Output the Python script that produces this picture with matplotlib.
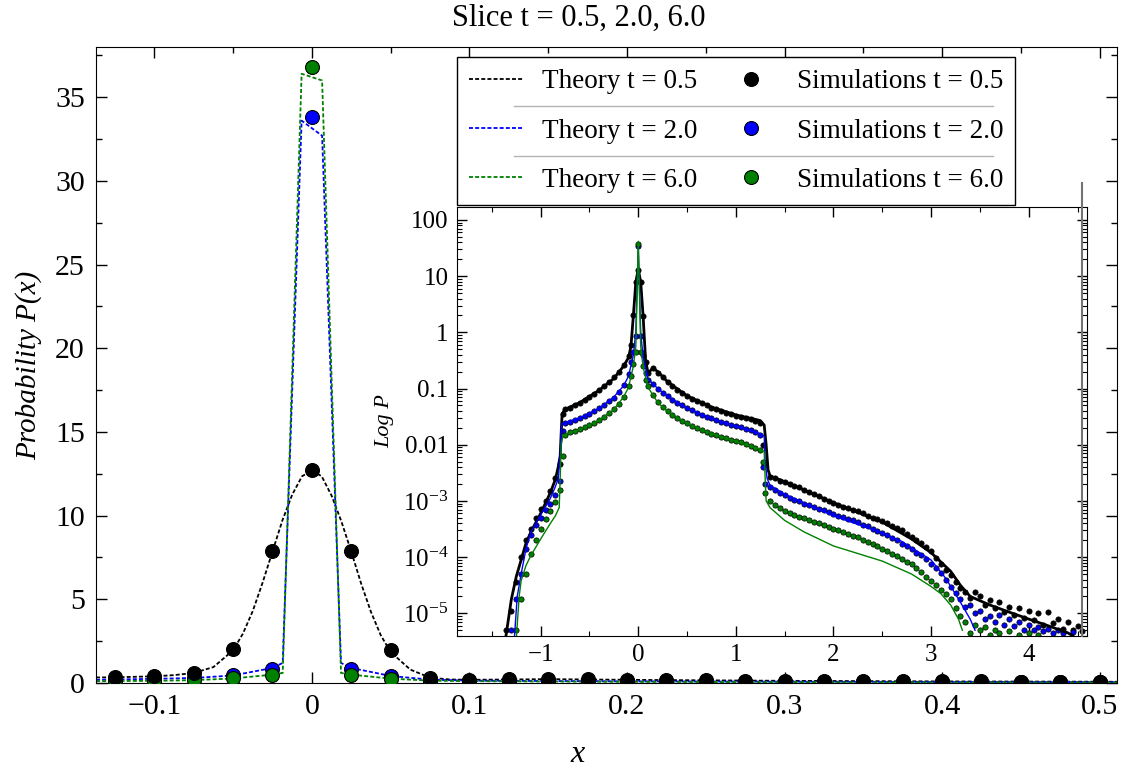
import matplotlib

matplotlib.use("Agg")
import matplotlib.pyplot as plt
import numpy as np
from matplotlib.lines import Line2D
from matplotlib.ticker import FuncFormatter, LogLocator, MultipleLocator

plt.rcParams["font.family"] = ["Liberation Serif", "DejaVu Serif"]
plt.rcParams["mathtext.fontset"] = "custom"
plt.rcParams["mathtext.rm"] = "Liberation Serif"
plt.rcParams["mathtext.it"] = "Liberation Serif:italic"

nan = np.nan

# ---- main panel: slices of P(x) near the origin ----
SIM_X = [-0.125, -0.1, -0.075, -0.05, -0.025, 0.0, 0.025, 0.05, 0.075, 0.1, 0.125, 0.15, 0.175,
         0.2, 0.225, 0.25, 0.275, 0.3, 0.325, 0.35, 0.375, 0.4, 0.425, 0.45, 0.475, 0.5]
SIM_05 = [0.33, 0.40, 0.60, 2.05, 7.9, 12.7, 7.9, 1.95, 0.30, 0.19, 0.22, 0.23, 0.21,
          0.19, 0.17, 0.155, 0.14, 0.13, 0.12, 0.11, 0.10, 0.095, 0.09, 0.085, 0.08, 0.075]
SIM_20 = [0.20, 0.25, 0.30, 0.45, 0.86, 33.8, 0.85, 0.40, 0.19, 0.14, 0.13, 0.12, 0.11,
          0.10, 0.095, 0.09, 0.085, 0.08, 0.075, 0.07, 0.065, 0.06, 0.058, 0.055, 0.052, 0.05]
SIM_60 = [0.11, 0.13, 0.17, 0.27, 0.45, 36.8, 0.45, 0.25, 0.14, 0.11, 0.095, 0.085, 0.075,
          0.068, 0.062, 0.057, 0.052, 0.048, 0.045, 0.042, 0.04, 0.037, 0.035, 0.033, 0.031, 0.03]

TH_X_05 = [-0.137, -0.125, -0.1, -0.0875, -0.075, -0.0625, -0.05, -0.04375, -0.0375, -0.03125,
           -0.025, -0.01875, -0.0125, -0.00625, 0.0, 0.00625, 0.0125, 0.01875, 0.025, 0.03125,
           0.0375, 0.04375, 0.05, 0.0625, 0.075, 0.0875, 0.1, 0.125, 0.15, 0.2, 0.3, 0.4, 0.511]
TH_05 = [0.33, 0.34, 0.40, 0.47, 0.60, 0.95, 1.95, 2.95, 4.3, 6.0,
         7.85, 9.7, 11.25, 12.35, 12.7, 12.35, 11.2, 9.65, 7.85, 5.95,
         4.25, 2.85, 1.85, 0.8, 0.32, 0.21, 0.19, 0.21, 0.23, 0.19, 0.13, 0.095, 0.075]
TH_X_NARROW = [-0.137, -0.1, -0.075, -0.05, -0.025, -0.0185, -0.0065, 0.0065, 0.0185, 0.025,
               0.05, 0.075, 0.1, 0.2, 0.3, 0.4, 0.511]
TH_20 = [0.19, 0.25, 0.30, 0.45, 0.9, 1.2, 33.6, 32.7, 1.2, 0.9,
         0.42, 0.2, 0.14, 0.10, 0.08, 0.06, 0.05]
TH_60 = [0.11, 0.13, 0.17, 0.27, 0.5, 0.6, 36.4, 36.0, 0.6, 0.5,
         0.26, 0.14, 0.11, 0.068, 0.048, 0.037, 0.03]

# ---- inset: full distribution on a log scale ----
INSET_X = [
    -1.35, -1.3, -1.25, -1.2, -1.15, -1.1, -1.05, -1.0, -0.95, -0.9, -0.85, -0.8,
    -0.775, -0.75, -0.7, -0.65, -0.6, -0.55, -0.5, -0.45, -0.4, -0.35, -0.3, -0.25, -0.2, -0.15, -0.1,
    -0.075, -0.05, -0.025, 0.0, 0.025, 0.05, 0.075,
    0.1, 0.15, 0.2, 0.25, 0.3, 0.35, 0.4, 0.45, 0.5, 0.55, 0.6, 0.65,
    0.7, 0.75, 0.8, 0.85, 0.9, 0.95, 1.0, 1.05, 1.1, 1.15, 1.2, 1.25,
    1.275, 1.3, 1.35, 1.4, 1.45, 1.5, 1.55, 1.6, 1.65, 1.7, 1.75, 1.8, 1.85, 1.9, 1.95, 2.0,
    2.05, 2.1, 2.15, 2.2, 2.25, 2.3, 2.35, 2.4, 2.45, 2.5,
    2.55, 2.6, 2.65, 2.7, 2.75, 2.8, 2.85, 2.9, 2.95, 3.0,
    3.05, 3.1, 3.15, 3.2, 3.25, 3.3, 3.35, 3.4, 3.45, 3.5,
    3.55, 3.6, 3.65, 3.7, 3.75, 3.8, 3.85, 3.9, 3.95, 4.0,
    4.05, 4.1, 4.15, 4.2, 4.25, 4.3, 4.35, 4.4, 4.45, 4.5, 4.55,
]
INSET_SIM_05 = [
    5.0e-6, 1.12e-5, 3.55e-5, 1.0e-4, 2.0e-4, 3.16e-4, 5.0e-4, 7.1e-4, 1.0e-3, 1.51e-3, 2.51e-3, 4.47e-3,
    0.0355, 0.0427, 0.0457, 0.0501, 0.0562, 0.0631, 0.0708, 0.0813, 0.0955, 0.112, 0.132, 0.158, 0.2, 0.263, 0.38,
    0.6, 2.05, 7.9, 12.7, 7.9, 1.95, 0.30,
    0.19, 0.23, 0.19, 0.158, 0.132, 0.112, 0.0955, 0.0832, 0.0741, 0.0661, 0.0603, 0.055,
    0.0501, 0.0457, 0.0427, 0.0398, 0.0372, 0.0347, 0.0331, 0.0316, 0.0295, 0.0282, 0.0263, 0.024,
    0.01, 4.47e-3, 2.69e-3, 2.51e-3, 2.29e-3, 2.14e-3, 2.0e-3, 1.86e-3, 1.74e-3, 1.58e-3, 1.45e-3, 1.32e-3,
    1.2e-3, 1.1e-3, 1.0e-3, 9.1e-4,
    8.5e-4, 7.9e-4, 7.4e-4, 6.9e-4, 6.5e-4, 6.0e-4, 5.5e-4, 5.0e-4, 4.7e-4, 4.4e-4,
    4.0e-4, 3.6e-4, 3.3e-4, 3.0e-4, 2.6e-4, 2.3e-4, 2.0e-4, 1.78e-4, 1.51e-4, 1.26e-4,
    9.5e-5, 7.6e-5, 6.0e-5, 4.8e-5, 3.55e-5, 2.8e-5, 2.4e-5, 1.9e-5, 2.4e-5, 2.0e-5,
    1.41e-5, 1.74e-5, 1.26e-5, 1.58e-5, 1.05e-5, 1.32e-5, 9.5e-6, 1.26e-5, 8.3e-6, 1.12e-5,
    7.6e-6, 1.0e-5, 6.3e-6, 1.05e-5, 6.6e-6, 7.9e-6, 5.2e-6, 7.1e-6, 5.0e-6, 6.0e-6, 4.8e-6,
]
INSET_SIM_20 = [
    nan, 5.0e-6, 1.78e-5, 5.0e-5, 1.41e-4, 2.51e-4, 3.8e-4, 5.0e-4, 6.8e-4, 8.9e-4, 1.26e-3, 2.24e-3,
    0.0178, 0.024, 0.0251, 0.0275, 0.0302, 0.0331, 0.0355, 0.0398, 0.0447, 0.0501, 0.0589, 0.0692, 0.0871, 0.117, 0.178,
    0.3, 0.45, 0.86, 33.8, 0.85, 0.40, 0.19,
    0.141, 0.12, 0.10, 0.085, 0.074, 0.063, 0.056, 0.050, 0.0447, 0.0407, 0.0372, 0.0339,
    0.0316, 0.0295, 0.0275, 0.0257, 0.024, 0.0229, 0.0214, 0.0204, 0.0191, 0.0182, 0.017, 0.0151,
    3.98e-3, 2.0e-3, 1.74e-3, 1.58e-3, 1.41e-3, 1.26e-3, 1.15e-3, 1.05e-3, 9.8e-4, 8.9e-4, 8.3e-4, 7.8e-4,
    7.2e-4, 6.8e-4, 6.3e-4, 5.9e-4,
    5.5e-4, 5.1e-4, 4.8e-4, 4.5e-4, 4.2e-4, 3.8e-4, 3.55e-4, 3.2e-4, 2.95e-4, 2.7e-4,
    2.45e-4, 2.2e-4, 2.0e-4, 1.74e-4, 1.58e-4, 1.38e-4, 1.2e-4, 1.07e-4, 9.1e-5, 7.6e-5,
    6.3e-5, 5.2e-5, 4.0e-5, 3.0e-5, 2.3e-5, 1.78e-5, 1.32e-5, 1.41e-5, 1.0e-5, 1.12e-5,
    7.9e-6, 8.9e-6, 7.1e-6, 9.5e-6, 6.3e-6, 7.9e-6, 6.0e-6, 7.1e-6, 5.0e-6, 6.3e-6,
    5.0e-6, 5.6e-6, 4.8e-6, 5.2e-6, 4.5e-6, 5.0e-6, 4.5e-6, nan, 4.7e-6, nan, nan,
]
INSET_SIM_60 = [
    nan, nan, 5.0e-6, 1.78e-5, 5.0e-5, 1.12e-4, 2.0e-4, 3.16e-4, 4.7e-4, 6.6e-4, 9.5e-4, 1.58e-3,
    6.3e-3, 0.0151, 0.0166, 0.0178, 0.0191, 0.0204, 0.0224, 0.0245, 0.0275, 0.0316, 0.0363, 0.0427, 0.0525, 0.0708, 0.112,
    0.17, 0.27, 0.45, 36.8, 0.45, 0.25, 0.14,
    0.11, 0.076, 0.0575, 0.0468, 0.0398, 0.0339, 0.0295, 0.0263, 0.024, 0.0219, 0.02, 0.0186,
    0.017, 0.0158, 0.0148, 0.0138, 0.0132, 0.0123, 0.0115, 0.011, 0.0102, 9.5e-3, 8.9e-3, 7.9e-3,
    5.0e-3, 1.41e-3, 1.0e-3, 8.5e-4, 7.4e-4, 6.6e-4, 6.0e-4, 5.6e-4, 5.2e-4, 4.9e-4, 4.6e-4, 4.3e-4,
    4.0e-4, 3.7e-4, 3.5e-4, 3.2e-4,
    3.0e-4, 2.8e-4, 2.6e-4, 2.4e-4, 2.24e-4, 2.04e-4, 1.86e-4, 1.7e-4, 1.55e-4, 1.41e-4,
    1.29e-4, 1.15e-4, 1.05e-4, 9.3e-5, 8.3e-5, 7.4e-5, 6.3e-5, 5.4e-5, 4.5e-5, 3.8e-5,
    3.16e-5, 2.6e-5, 2.2e-5, 1.82e-5, 1.26e-5, 8.9e-6, 7.1e-6, 4.5e-6, 6.3e-6, 5.0e-6,
    5.6e-6, 4.2e-6, 5.0e-6, 4.4e-6, nan, 4.8e-6, nan, 4.2e-6, nan, 4.5e-6,
    nan, 4.2e-6, nan, nan, nan, nan, nan, nan, nan, nan, nan,
]

INSET_TH_X_05 = [-1.36, -1.3, -1.25, -1.2, -1.15, -1.1, -1.0, -0.9, -0.85, -0.82,
                 -0.8, -0.79, -0.78, -0.75, -0.6, -0.4, -0.25, -0.15, -0.1, -0.075,
                 -0.05, -0.025, 0.0, 0.025, 0.05, 0.075, 0.1, 0.125, 0.15, 0.2,
                 0.3, 0.5, 0.75, 1.0, 1.2, 1.25, 1.29, 1.31, 1.33, 1.35,
                 1.5, 2.0, 2.5, 2.8, 3.0, 3.2, 3.3, 3.4, 3.6, 3.8, 4.0, 4.2, 4.4, 4.45]
INSET_TH_05 = [3.5e-6, 1.78e-5, 4.5e-5, 8.9e-5, 1.78e-4, 2.8e-4, 6.0e-4, 1.41e-3, 2.4e-3, 4.0e-3,
               6.3e-3, 0.0158, 0.0355, 0.0427, 0.0562, 0.0933, 0.151, 0.251, 0.355, 0.562,
               2.0, 7.9, 13.2, 7.9, 1.9, 0.316, 0.19, 0.209, 0.229, 0.2,
               0.132, 0.0741, 0.0468, 0.0339, 0.0282, 0.0269, 0.0224, 0.01, 3.55e-3, 2.8e-3,
               2.2e-3, 9.3e-4, 4.2e-4, 2.1e-4, 1.2e-4, 5.6e-5, 3.16e-5, 2.0e-5, 1.41e-5, 1.05e-5,
               7.9e-6, 6.0e-6, 4.5e-6, 4.0e-6]
INSET_TH_X_20 = [-1.27, -1.24, -1.2, -1.15, -1.1, -1.0, -0.9, -0.85, -0.82, -0.8,
                 -0.79, -0.78, -0.6, -0.4, -0.25, -0.15, -0.1, -0.05, -0.025, 0.0,
                 0.025, 0.05, 0.1, 0.2, 0.3, 0.5, 0.75, 1.0, 1.25, 1.29,
                 1.3, 1.32, 1.35, 1.5, 2.0, 2.5, 2.7, 3.0, 3.15, 3.3, 3.4, 3.45]
INSET_TH_20 = [3.5e-6, 2.0e-5, 5.0e-5, 1.41e-4, 2.8e-4, 5.6e-4, 1.12e-3, 1.78e-3, 2.5e-3, 6.3e-3,
               0.0178, 0.024, 0.0302, 0.0447, 0.0708, 0.112, 0.166, 0.398, 1.0, 33.0,
               1.0, 0.355, 0.148, 0.1, 0.0741, 0.0447, 0.0295, 0.0214, 0.0158, 0.0141,
               5.0e-3, 2.5e-3, 1.9e-3, 1.32e-3, 5.4e-4, 2.7e-4, 1.9e-4, 8.9e-5, 4.2e-5, 1.58e-5,
               7.9e-6, 5.0e-6]
INSET_TH_X_60 = [-1.25, -1.22, -1.2, -1.15, -1.1, -1.0, -0.9, -0.85, -0.81, -0.8,
                 -0.79, -0.77, -0.6, -0.4, -0.25, -0.15, -0.1, -0.05, -0.025, 0.0,
                 0.025, 0.05, 0.1, 0.2, 0.3, 0.5, 0.75, 1.0, 1.25, 1.29,
                 1.3, 1.31, 1.35, 1.5, 1.7, 2.0, 2.5, 2.8, 3.0, 3.1, 3.2, 3.28, 3.32]
INSET_TH_60 = [3.5e-6, 2.0e-5, 3.8e-5, 7.1e-5, 1.07e-4, 2.1e-4, 4.0e-4, 5.4e-4, 7.6e-4, 2.5e-3,
               0.01, 0.0148, 0.0186, 0.0275, 0.0427, 0.0708, 0.105, 0.251, 0.562, 41.7,
               0.562, 0.24, 0.105, 0.0562, 0.0389, 0.024, 0.0158, 0.0115, 8.3e-3, 7.6e-3,
               2.5e-3, 1.0e-3, 7.6e-4, 4.5e-4, 2.8e-4, 1.58e-4, 8.5e-5, 5.0e-5, 3.0e-5, 2.24e-5,
               1.41e-5, 7.9e-6, 5.0e-6]

TIMES = ["0.5", "2.0", "6.0"]
COLORS = ["black", "#0000ff", "#008000"]
DASH = (0, (2.2, 1.2))
W, H = 1124, 770


def plain_fmt(v, pos):
    s = f"{round(v, 4):g}"
    if s in ("-0", "0.0"):
        s = "0"
    return s.replace("-", "\u2212")


def log_fmt(v, pos):
    e = int(round(np.log10(v)))
    if e >= -2:
        return f"{v:g}"
    return r"$10^{%d}$" % e


fig = plt.figure(figsize=(W / 100, H / 100), dpi=100)
ax = fig.add_axes([96 / W, 1 - 683 / H, 1021 / W, 636 / H])

theory_x = [TH_X_05, TH_X_NARROW, TH_X_NARROW]
theory_p = [TH_05, TH_20, TH_60]
sims = [SIM_05, SIM_20, SIM_60]
sim_z = [3.3, 3.1, 3.2]
th_handles, sim_handles = [], []
for t, c, tx, tp, sp, z in zip(TIMES, COLORS, theory_x, theory_p, sims, sim_z):
    (h1,) = ax.plot(tx, tp, ls=DASH, lw=1.3, color=c, label=f"Theory t = {t}")
    (h2,) = ax.plot(SIM_X, sp, "o", ms=10, mfc=c, mec="black", mew=0.8, zorder=z,
                    label=f"Simulations t = {t}")
    th_handles.append(h1)
    sim_handles.append(h2)

ax.set_xlim(-0.137, 0.511)
ax.set_ylim(0, 38)
ax.xaxis.set_major_locator(MultipleLocator(0.1))
ax.xaxis.set_minor_locator(MultipleLocator(0.05))
ax.yaxis.set_major_locator(MultipleLocator(5))
ax.yaxis.set_minor_locator(MultipleLocator(2.5))
ax.xaxis.set_major_formatter(FuncFormatter(plain_fmt))
ax.yaxis.set_major_formatter(FuncFormatter(plain_fmt))
ax.tick_params(which="both", direction="in", top=True, right=True, labelsize=21.5, pad=8)
ax.tick_params(which="major", length=8, width=1)
ax.tick_params(which="minor", length=4, width=1)
ax.set_ylabel("Probability P(x)", fontstyle="italic", fontsize=21, labelpad=9)
fig.text(578 / W, 1 - 755 / H, "x", fontstyle="italic", fontsize=23, ha="center", va="center")
fig.text(579 / W, 1 - 18 / H, "Slice t = 0.5, 2.0, 6.0", fontsize=22, ha="center", va="center")

leg = ax.legend(th_handles + sim_handles, [h.get_label() for h in th_handles + sim_handles],
                ncol=2, loc="upper left", bbox_to_anchor=(457 / W, 1 - 57 / H),
                bbox_transform=fig.transFigure, fancybox=False, framealpha=1, edgecolor="black",
                fontsize=19.5, handlelength=2.0, handletextpad=0.7, columnspacing=0.95,
                labelspacing=0.9, borderpad=0.45, borderaxespad=0)
leg.get_frame().set_linewidth(1.0)

# inset
axin = fig.add_axes([456.7 / W, 1 - 635.7 / H, 630.6 / W, 429 / H])
inset_sims = [INSET_SIM_05, INSET_SIM_20, INSET_SIM_60]
inset_tx = [INSET_TH_X_05, INSET_TH_X_20, INSET_TH_X_60]
inset_tp = [INSET_TH_05, INSET_TH_20, INSET_TH_60]
for c, sp in zip(COLORS, inset_sims):
    axin.plot(INSET_X, sp, "o", ms=3.8, mfc=c, mec="black", mew=0.5, zorder=2)
for c, tx, tp, lw in zip(COLORS, inset_tx, inset_tp, [2.0, 1.0, 1.0]):
    axin.plot(tx, tp, "-", color=c, lw=lw, zorder=3)
axin.set_yscale("log")
axin.set_xlim(-1.86, 4.6)
axin.set_ylim(4e-6, 172)
axin.xaxis.set_major_locator(MultipleLocator(1))
axin.xaxis.set_minor_locator(MultipleLocator(0.5))
axin.xaxis.set_major_formatter(FuncFormatter(plain_fmt))
axin.yaxis.set_major_locator(LogLocator(base=10, numticks=15))
axin.yaxis.set_minor_locator(LogLocator(base=10, subs=np.arange(2, 10) * 1.0, numticks=15))
axin.yaxis.set_major_formatter(FuncFormatter(log_fmt))
axin.tick_params(which="both", direction="in", top=True, right=True, labelsize=18, pad=6)
axin.tick_params(which="major", length=7, width=1)
axin.tick_params(which="minor", length=3.5, width=0.8)
axin.set_ylabel("Log P", fontstyle="italic", fontsize=16, labelpad=6)

# stray frame line at the right edge of the inset
fig.add_artist(Line2D([1081.7 / W] * 2, [1 - 183 / H, 1 - 636 / H], color="0.45", lw=1.5))

# thin gray separators between legend rows
fig.canvas.draw()
renderer = fig.canvas.get_renderer()
boxes = [t.get_window_extent(renderer) for t in leg.get_texts()]
x0 = boxes[0].x0 - 28
x1 = boxes[3].x1 - 10
for i in range(2):
    yc = 0.5 * ((boxes[i].y0 + boxes[i].y1) / 2 + (boxes[i + 1].y0 + boxes[i + 1].y1) / 2)
    fig.add_artist(Line2D([x0 / W, x1 / W], [yc / H, yc / H], color="0.7", lw=1.0))

fig.savefig("out.png", dpi=100)
